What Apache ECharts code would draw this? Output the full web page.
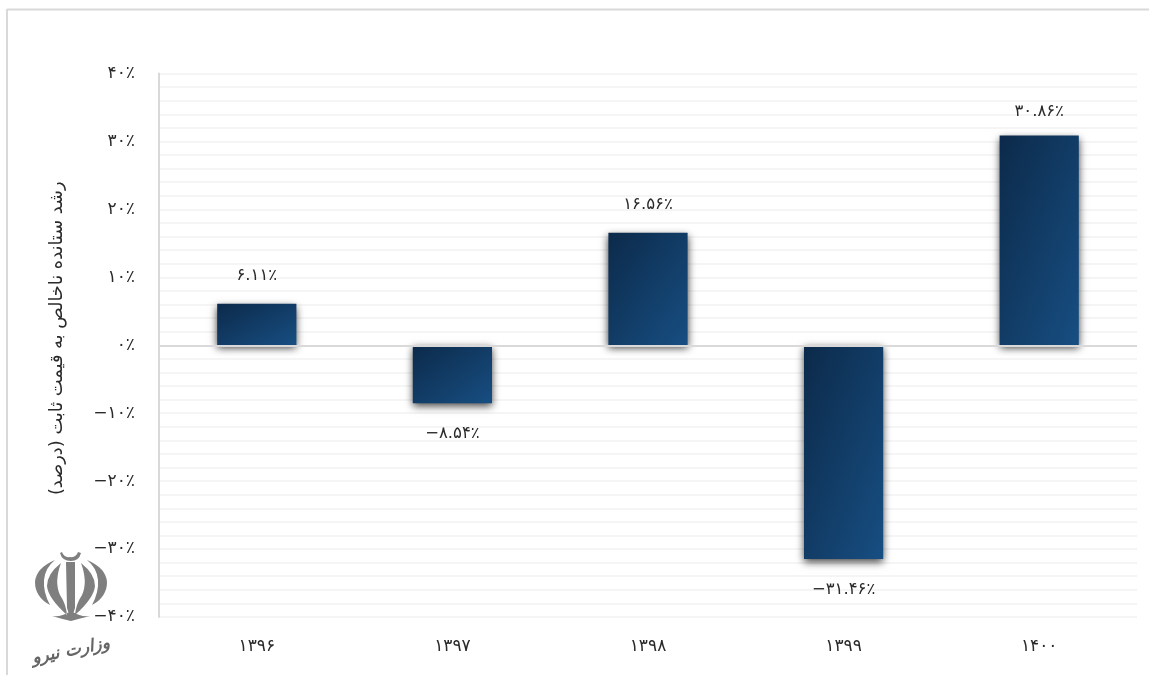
<!DOCTYPE html>
<html><head><meta charset="utf-8">
<style>html,body{margin:0;padding:0;background:#fff}#c{width:1149px;height:675px}</style>
<script src="https://cdn.jsdelivr.net/npm/echarts@6/dist/echarts.min.js"></script>
</head><body><div id="c"></div>
<script>
const categories = ['۱۳۹۶','۱۳۹۷','۱۳۹۸','۱۳۹۹','۱۴۰۰'];
const growthValues = [6.11,-8.54,16.56,-31.46,30.86];
const axisTitle = 'رشد ستانده ناخالص به قیمت ثابت (درصد)';
const logoText = 'وزارت نیرو';
const FONT = 'DejaVu Sans';
const fa = s => String(s).replace(/\d/g, d => '۰۱۲۳۴۵۶۷۸۹'[d]);
const pct = v => (v < 0 ? '−' : '') + fa(Math.abs(v)) + '٪';
echarts.graphic.registerShape('emblem', echarts.graphic.extendPath(
  'M66 562 L75 562 L75 608 L71 620 L67 608 Z ' +
  'M62 552 Q64 558 70 557 Q76 558 78 552 L81 553 Q79 561 71 561 Q62 561 60 553 Z ' +
  'M55 560 Q36 568 35 582 Q35 597 50 605 Q43 592 44 580 Q45 568 55 560 Z ' +
  'M61 563 Q47 574 47 586 Q48 598 67 615 Q66 604 60 595 Q54 582 61 563 Z ' +
  'M87 560 Q106 568 107 582 Q107 597 92 605 Q99 592 98 580 Q97 568 87 560 Z ' +
  'M81 563 Q95 574 95 586 Q94 598 75 615 Q76 604 82 595 Q88 582 81 563 Z ' +
  'M52 616 Q62 617 69 612 L71 619 L73 612 Q80 617 90 616 Q78 619 71 621 Q62 619 52 616 Z'));
// Office-style "scaled" diagonal gradient: top-right and bottom-left corners share the mid colour.
const barFill = v => {
  const w = 79, h = Math.abs(v) * 6.8, a = 1 / (2 * w), b = 1 / (2 * h), d = a * a + b * b;
  return new echarts.graphic.LinearGradient(0, 0, (a / d) / w, (b / d) / h,
    [{offset:0,color:'#0c2a4a'},{offset:1,color:'#174e82'}]);
};
const chart = echarts.init(document.getElementById('c'), null, {renderer:'canvas'});
const grey = '#7f7f7f', ink = '#2a2a2a';
chart.setOption({
  animation:false,
  backgroundColor:'#fff',
  grid:{left:159,right:12,top:73.5,bottom:58,containLabel:false},
  xAxis:{type:'category',data:categories,position:'bottom',
    axisLine:{show:false,onZero:false},axisTick:{show:false},splitLine:{show:false},
    axisLabel:{color:ink,fontFamily:FONT,fontSize:17,margin:21}},
  yAxis:{type:'value',min:-40,max:40,interval:10,
    name:axisTitle,nameLocation:'middle',nameRotate:90,nameGap:93,
    nameTextStyle:{color:ink,fontFamily:FONT,fontSize:17.8,padding:[0,0,0,14]},
    axisLine:{show:true,lineStyle:{color:'#d9d9d9',width:2}},axisTick:{show:false},
    axisLabel:{color:ink,fontFamily:FONT,fontSize:17,margin:24,formatter:pct},
    splitLine:{show:true,lineStyle:{color:'#f2f2f2',width:1.5}},
    minorTick:{show:false,splitNumber:5},
    minorSplitLine:{show:true,lineStyle:{color:'#f2f2f2',width:1.5}}},
  series:[{type:'bar',
    data:growthValues.map((v,i)=>({value:v,itemStyle:{color:barFill(v)},label:i===4?{distance:15}:(v<0?{distance:22}:{})})),
    barWidth:'40.5%',
    itemStyle:{shadowColor:'rgba(0,0,0,0.75)',shadowBlur:8,shadowOffsetX:0,shadowOffsetY:3},
    label:{show:true,position:'outside',distance:20,color:ink,fontFamily:FONT,fontSize:16.5,formatter:p=>pct(p.value)},
    markLine:{silent:true,symbol:'none',label:{show:false},lineStyle:{color:'#d9d9d9',width:2,type:'solid'},data:[{yAxis:0}]}
  }],
  graphic:[
    {type:'line',silent:true,shape:{x1:7,y1:9.5,x2:1149,y2:9.5},style:{stroke:'#d9d9d9',lineWidth:2}},
    {type:'line',silent:true,shape:{x1:7,y1:9,x2:7,y2:675},style:{stroke:'#d9d9d9',lineWidth:2}},
    {type:'emblem',silent:true,z:10,style:{fill:grey}},
    {type:'text',silent:true,z:10,x:71,y:651,rotation:0.2,originX:0,originY:0,
      style:{text:logoText,fill:'#666',font:'italic bold 17px "DejaVu Sans"',align:'center',verticalAlign:'middle'}}
  ]
});
</script></body></html>
